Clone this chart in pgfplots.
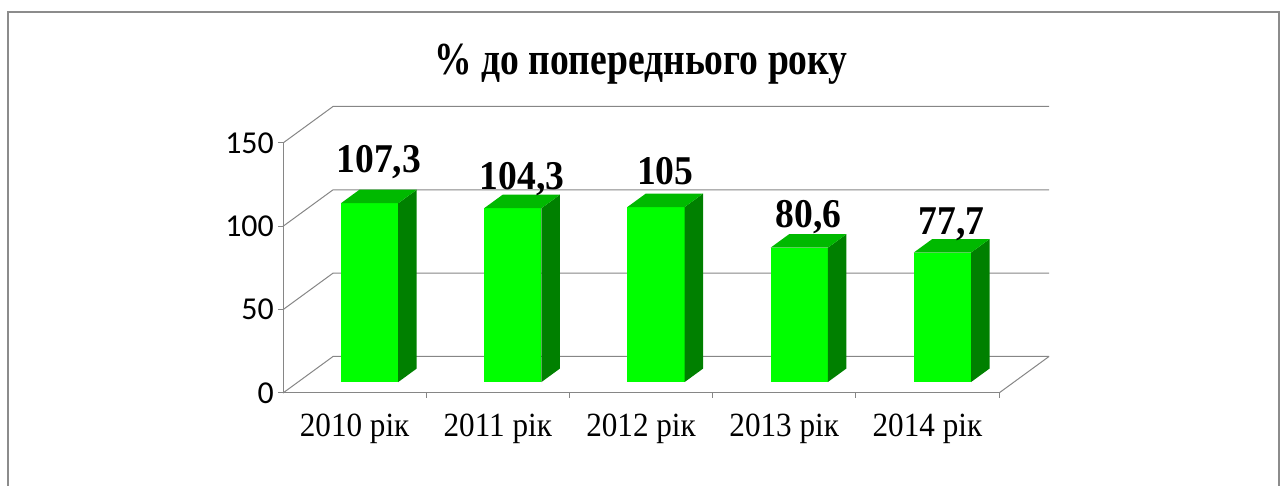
\documentclass[border=0pt]{standalone}
\usepackage{fontspec}
\setmainfont{Liberation Serif}
\newfontfamily\tms[FakeStretch=0.92]{Liberation Serif}
\newfontfamily\tmstitle[FakeStretch=0.82]{Liberation Serif}
\newfontfamily\carlito{Carlito}
\usepackage{pgfplots}
\pgfplotsset{compat=1.18}
\usepackage{pgfplotstable}

\definecolor{barfront}{RGB}{0,255,0}
\definecolor{barside}{RGB}{0,128,0}
\definecolor{bartop}{RGB}{0,185,0}
\definecolor{wall}{RGB}{134,134,134}
\definecolor{framecol}{RGB}{140,140,140}

% category  value  label  label offset (bp)
\pgfplotstableread{
x   v     lab    off
0.5 107.3 107,3  23.5
1.5 104.3 104,3  11.5
2.5 105   105    15.3
3.5 80.6  80,6   13.0
4.5 77.7  77,7   10.8
}\datatab

\newcommand\cuboid[3]{%
  \addplot3[fill=barfront, draw=none] coordinates {(#1,0.3,0) (#2,0.3,0) (#2,0.3,#3) (#1,0.3,#3)};
  \addplot3[fill=barside, draw=none] coordinates {(#2,0.3,0) (#2,0.67,0) (#2,0.67,#3) (#2,0.3,#3)};
  \addplot3[fill=bartop, draw=none] coordinates {(#1,0.3,#3) (#2,0.3,#3) (#2,0.67,#3) (#1,0.67,#3)};
}

\begin{document}
\begin{tikzpicture}
\path[use as bounding box] (0,0) rectangle (1286bp,486bp);
\draw[framecol, line width=1.5bp] (8bp,-20bp) -- (8bp,474bp) -- (1279bp,474bp) -- (1279bp,-20bp);
\node[anchor=base, font=\tmstitle\bfseries\fontsize{46}{48}\selectfont] at (641bp,411bp) {\% до попереднього року};

% 3D part: walls, bars, data labels
\begin{axis}[
  at={(283bp,93bp)}, anchor=origin,
  x={(143.2bp,0bp)}, y={(50bp,36.5bp)}, z={(0bp,1.66667bp)},
  xmin=0, xmax=5, ymin=0, ymax=1, zmin=0, zmax=150,
  hide axis, clip=false,
]
\pgfplotsinvokeforeach{0,50,100,150}{
  \draw[wall, line width=1bp] (axis cs:0,0,#1) -- (axis cs:0,1,#1) -- (axis cs:5,1,#1);
}
\draw[wall, line width=1bp] (axis cs:5,0,0) -- (axis cs:5,1,0);
\cuboid{0.3}{0.7}{107.3}
\cuboid{1.3}{1.7}{104.3}
\cuboid{2.3}{2.7}{105}
\cuboid{3.3}{3.7}{80.6}
\cuboid{4.3}{4.7}{77.7}
\addplot3[draw=none, mark=none, nodes near coords, point meta=explicit symbolic,
  visualization depends on={\thisrow{off}\as\off},
  every node near coord/.append style={anchor=base, inner sep=0pt, yshift=\off*1bp,
    font=\tms\bfseries\fontsize{41}{42}\selectfont}]
  table[x=x, y expr=0.485, z=v, meta=lab] {\datatab};
\end{axis}

% 2D front plane: axis lines, ticks and tick labels
\begin{axis}[
  at={(283bp,93bp)}, anchor=origin,
  x=143.2bp, y=1.66667bp,
  xmin=0, xmax=5, ymin=0, ymax=150,
  axis lines*=left,
  axis line style={draw=wall, line width=1bp},
  tick align=outside,
  major tick length=5bp,
  tick style={draw=wall, line width=1bp},
  ytick={0,50,100,150},
  /pgf/number format/assume math mode=true,
  yticklabel style={font=\carlito\fontsize{32}{33}\selectfont, inner sep=2bp, xshift=-2bp},
  xtick={1,2,3,4,5}, xticklabels={},
  extra x ticks={0.5,1.5,2.5,3.5,4.5},
  extra x tick labels={2010 рік,2011 рік,2012 рік,2013 рік,2014 рік},
  extra x tick style={major tick length=0pt, tick style={draw=none},
    xticklabel style={font=\tms\fontsize{34}{36}\selectfont, anchor=base, yshift=-43bp}},
]
\end{axis}
\end{tikzpicture}
\end{document}
